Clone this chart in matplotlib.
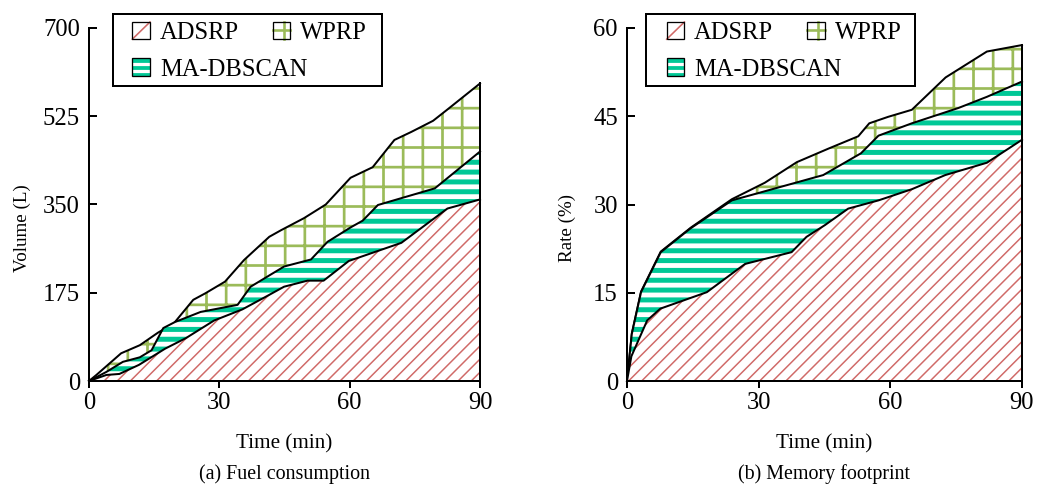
import matplotlib
matplotlib.use("Agg")
import matplotlib as mpl
import matplotlib.pyplot as plt
from matplotlib.patches import Rectangle, Patch
from matplotlib.lines import Line2D
from matplotlib.legend_handler import HandlerBase

# ---------------- data ----------------
fuel_time_adsrp = [0, 4.0, 7.0, 11.5, 17.5, 22.3, 28.8, 35.3, 41.1, 44.9, 50.3, 54.0, 59.8, 71.9, 82.5, 90]
fuel_adsrp = [0, 12, 14, 32, 64, 85, 120, 142, 169, 187, 199, 199, 238, 274, 342, 360]

fuel_time_ma = [0, 4.0, 7.8, 11.7, 14.4, 17.1, 19.8, 25.7, 34.2, 37.2, 44.9, 51.1, 54.9, 60.3, 63.0, 66.5, 79.6, 90]
fuel_ma = [0, 18, 38, 47, 61, 105, 117, 137, 151, 187, 227, 241, 276, 305, 318, 349, 382, 455]

fuel_time_wprp = [0, 1.7, 7.4, 11.7, 15.9, 19.5, 24.0, 26.8, 31.3, 35.7, 41.5, 44.2, 49.5, 54.5, 60.2, 65.3, 70.3, 74.2, 79.2, 82.3, 90]
fuel_wprp = [0, 12, 55, 71, 96, 114, 161, 174, 197, 240, 286, 299, 323, 350, 403, 424, 478, 494, 516, 537, 590]

mem_time_adsrp = [0, 1.0, 4.6, 7.6, 18.2, 26.9, 37.5, 40.9, 45.1, 50.4, 57.3, 64.9, 72.5, 82.0, 90]
mem_adsrp = [0, 4.2, 10.3, 12.3, 15.1, 19.9, 21.9, 24.5, 26.5, 29.3, 30.7, 32.6, 35.0, 37.1, 41.0]

mem_time_ma = [0, 1.1, 3.2, 7.7, 14.4, 23.9, 44.7, 53.3, 57.3, 64.9, 75.5, 82.0, 90]
mem_ma = [0, 8.0, 15.1, 21.9, 25.9, 30.7, 35.0, 38.7, 41.7, 43.8, 46.4, 48.3, 50.9]

mem_time_wprp = [0, 1.1, 3.2, 7.7, 14.6, 23.9, 31.4, 38.7, 45.9, 52.7, 55.2, 59.5, 64.9, 72.6, 82.0, 90]
mem_wprp = [0, 8.1, 15.2, 22.0, 26.1, 30.9, 33.7, 37.2, 39.5, 41.6, 43.8, 44.9, 46.1, 51.6, 56.0, 57.1]

x_ticks = [0, 30, 60, 90]
fuel_yticks = [0, 175, 350, 525, 700]
mem_yticks = [0, 15, 30, 45, 60]

series_names = ["ADSRP", "WPRP", "MA-DBSCAN"]

# ---------------- style ----------------
DPI = 236
W, H = 1040, 491
plt.rcParams["font.family"] = ["Liberation Serif", "DejaVu Serif"]


def pt(px):
    return px * 72.0 / DPI


RED, GREEN, TEAL = "#D06A68", "#9BBB59", "#00C896"
STYLE = {
    "ADSRP": dict(hatch="//////", color=RED, hlw=pt(1.5), z=3),
    "MA-DBSCAN": dict(hatch="----", color=TEAL, hlw=pt(5.0), z=2),
    "WPRP": dict(hatch="++", color=GREEN, hlw=pt(2.7), z=1),
}


def set_hlw(artist, lw):
    if hasattr(artist, "set_hatch_linewidth"):
        try:
            artist.set_hatch_linewidth(lw)
        except Exception:
            pass
    orig = artist.draw

    def draw(renderer, *a, **k):
        with mpl.rc_context({"hatch.linewidth": lw}):
            return orig(renderer, *a, **k)

    artist.draw = draw


class PatternHandler(HandlerBase):
    def __init__(self, kind):
        super().__init__()
        self.kind = kind

    def create_artists(self, legend, orig_handle, xdescent, ydescent, width,
                       height, fontsize, trans):
        x0, y0 = -xdescent, -ydescent
        arts = []
        if self.kind == "MA-DBSCAN":
            arts.append(Rectangle((x0, y0), width, height, facecolor=TEAL,
                                  edgecolor="none", transform=trans))
            for f in (0.3, 0.7):
                arts.append(Line2D([x0, x0 + width], [y0 + f * height] * 2,
                                   color="white", lw=pt(3.2), transform=trans))
        else:
            arts.append(Rectangle((x0, y0), width, height, facecolor="white",
                                  edgecolor="none", transform=trans))
            if self.kind == "ADSRP":
                arts.append(Line2D([x0, x0 + width], [y0, y0 + height],
                                   color=RED, lw=pt(1.6), transform=trans))
            else:
                fx = x0 + 0.62 * width
                fy = y0 + 0.55 * height
                arts.append(Line2D([fx, fx], [y0, y0 + height], color=GREEN,
                                   lw=pt(2.6), transform=trans))
                arts.append(Line2D([x0, x0 + width], [fy, fy], color=GREEN,
                                   lw=pt(2.6), transform=trans))
        arts.append(Rectangle((x0, y0), width, height, facecolor="none",
                              edgecolor="black", lw=pt(1.3), transform=trans))
        return arts


TICK_FS = 7.5
LABEL_FS = 6.45
YLABEL_FS = 5.8
CAP_FS = 6.1

fig = plt.figure(figsize=(W / DPI, H / DPI), dpi=DPI)

top, bottom = 28, 381


def make_panel(x_left, x_right, data, yticks, ylabel, xlabel, caption,
               frame_px, first_handle_px, label_x):
    ax = fig.add_axes([x_left / W, 1 - bottom / H, (x_right - x_left) / W,
                       (bottom - top) / H])
    aw, ah = x_right - x_left, bottom - top
    for name in ["WPRP", "MA-DBSCAN", "ADSRP"]:
        t, v = data[name]
        s = STYLE[name]
        coll = ax.fill_between(t, v, 0, facecolor="white", edgecolor=s["color"],
                               hatch=s["hatch"], linewidth=0, zorder=s["z"])
        set_hlw(coll, s["hlw"])
        ax.plot(t, v, color="black", lw=pt(2.0), zorder=s["z"] + 0.5,
                clip_on=False)
        ax.plot([t[-1], t[-1]], [0, v[-1]], color="black", lw=pt(2.0),
                zorder=s["z"] + 0.5, clip_on=False)
    ax.set_xlim(0, 90)
    ax.set_ylim(yticks[0], yticks[-1])
    ax.set_xticks(x_ticks)
    ax.set_yticks(yticks)
    for sp in ["top", "right"]:
        ax.spines[sp].set_visible(False)
    for sp in ["left", "bottom"]:
        ax.spines[sp].set_linewidth(pt(2.0))
        ax.spines[sp].set_zorder(10)
    ax.tick_params(axis="y", direction="in", length=pt(8), width=pt(2),
                   labelsize=TICK_FS, pad=pt(9))
    ax.tick_params(axis="x", direction="out", length=pt(7), width=pt(2),
                   labelsize=TICK_FS, pad=pt(4))

    # legend frame (drawn separately)
    fl, fr, ft, fb = frame_px
    frame = Rectangle(((fl - x_left) / aw, (bottom - fb) / ah),
                      (fr - fl) / aw, (fb - ft) / ah, transform=ax.transAxes,
                      facecolor="white", edgecolor="black", lw=pt(2.0),
                      clip_on=False, zorder=19)
    ax.add_patch(frame)

    order = ["ADSRP", "MA-DBSCAN", "WPRP"]
    proxies = [Patch(label=n) for n in order]
    hmap = {p: PatternHandler(n) for p, n in zip(proxies, order)}
    leg = ax.legend(proxies, order, ncol=2, loc="upper left",
                    bbox_to_anchor=((first_handle_px - x_left) / aw,
                                    (bottom - 22) / ah),
                    borderaxespad=0, borderpad=0, fontsize=TICK_FS,
                    frameon=False, handler_map=hmap,
                    handlelength=0.72, handleheight=0.70, handletextpad=0.40,
                    columnspacing=-1.40, labelspacing=0.58)
    leg.set_zorder(20)

    cx = (x_left + x_right) / 2
    fig.text(cx / W, 1 - 444 / H, xlabel, ha="center", va="center", fontsize=LABEL_FS)
    fig.text(cx / W, 1 - 474 / H, caption, ha="center", va="center", fontsize=CAP_FS)
    fig.text(label_x / W, 1 - 228 / H, ylabel, ha="center", va="center",
             rotation=90, fontsize=YLABEL_FS)
    return ax


ax1 = make_panel(89, 480,
                 {"ADSRP": (fuel_time_adsrp, fuel_adsrp),
                  "MA-DBSCAN": (fuel_time_ma, fuel_ma),
                  "WPRP": (fuel_time_wprp, fuel_wprp)},
                 fuel_yticks, "Volume (L)", "Time (min)", "(a) Fuel consumption",
                 (112.7, 381.7, 14, 86), 132.3, 22)
ax2 = make_panel(627, 1022,
                 {"ADSRP": (mem_time_adsrp, mem_adsrp),
                  "MA-DBSCAN": (mem_time_ma, mem_ma),
                  "WPRP": (mem_time_wprp, mem_wprp)},
                 mem_yticks, "Rate (%)", "Time (min)", "(b) Memory footprint",
                 (645.7, 915, 14, 86), 666.7, 567)

fig.savefig("out.png", dpi=DPI)
